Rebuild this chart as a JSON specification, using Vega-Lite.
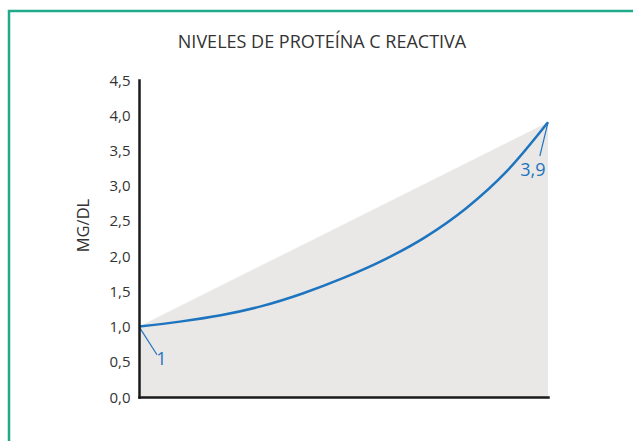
{
  "$schema": "https://vega.github.io/schema/vega-lite/v6.json",
  "autosize": "none",
  "width": 626,
  "height": 433,
  "padding": {"left": 9, "top": 11, "right": -2, "bottom": -3},
  "background": "white",
  "config": {
    "view": {"stroke": "#1fab89", "strokeWidth": 2.5},
    "font": "Open Sans"
  },
  "title": {
    "text": "NIVELES DE PROTEÍNA C REACTIVA",
    "fontSize": 18,
    "fontWeight": "normal",
    "color": "#333333",
    "anchor": "middle",
    "frame": "group",
    "offset": -55,
    "baseline": "alphabetic"
  },
  "encoding": {
    "x": {
      "field": "x",
      "type": "quantitative",
      "scale": {"domain": [0, 10], "range": [130, 539], "nice": false, "zero": false},
      "axis": {
        "orient": "bottom",
        "offset": -47,
        "labels": false,
        "ticks": false,
        "grid": false,
        "title": null,
        "domainColor": "#1a1a1a",
        "domainWidth": 2.5,
        "domainCap": "square",
        "zindex": 1
      }
    },
    "y": {
      "field": "y",
      "type": "quantitative",
      "scale": {"domain": [0, 4.5], "range": [386, 69], "nice": false},
      "axis": {
        "orient": "left",
        "offset": -130,
        "values": [0, 0.5, 1, 1.5, 2, 2.5, 3, 3.5, 4, 4.5],
        "labelExpr": "replace(format(datum.value, '.1f'), '.', ',')",
        "ticks": false,
        "grid": false,
        "labelPadding": 9,
        "labelFontSize": 15,
        "labelColor": "#333333",
        "domainColor": "#1a1a1a",
        "domainWidth": 2.5,
        "domainCap": "square",
        "title": "MG/DL",
        "titleFontSize": 16.5,
        "titleFontWeight": "normal",
        "titleColor": "#333333",
        "titleAngle": -90,
        "titleBaseline": "middle",
        "titleAlign": "center",
        "titleX": -56,
        "titleY": 214,
        "zindex": 1
      }
    }
  },
  "layer": [
    {
      "data": {"values": [{"x": 0, "y": 1.0}, {"x": 10, "y": 3.9}]},
      "mark": {"type": "area", "color": "#eae8e6"}
    },
    {
      "data": {"values": [
        {"x": 0, "y": 1.0}, {"x": 1, "y": 1.07}, {"x": 2, "y": 1.16}, {"x": 3, "y": 1.29},
        {"x": 4, "y": 1.47}, {"x": 5, "y": 1.69}, {"x": 6, "y": 1.95}, {"x": 7, "y": 2.27},
        {"x": 8, "y": 2.68}, {"x": 9, "y": 3.21}, {"x": 10, "y": 3.9}
      ]},
      "mark": {"type": "line", "color": "#1d74bf", "strokeWidth": 2.5, "interpolate": "monotone"}
    },
    {
      "data": {"values": [
        {"x": 0, "y": 1.0, "x2": 0.44, "y2": 0.6},
        {"x": 10, "y": 3.9, "x2": 9.8, "y2": 3.42}
      ]},
      "mark": {"type": "rule", "color": "#1d74bf", "strokeWidth": 1.2},
      "encoding": {
        "x2": {"field": "x2"},
        "y2": {"field": "y2"}
      }
    },
    {
      "data": {"values": [
        {"x": 0.55, "y": 0.53, "label": "1"},
        {"x": 9.63, "y": 3.21, "label": "3,9"}
      ]},
      "mark": {"type": "text", "color": "#1d74bf", "fontSize": 18, "align": "center", "baseline": "middle"},
      "encoding": {
        "text": {"field": "label", "type": "nominal"}
      }
    }
  ]
}
